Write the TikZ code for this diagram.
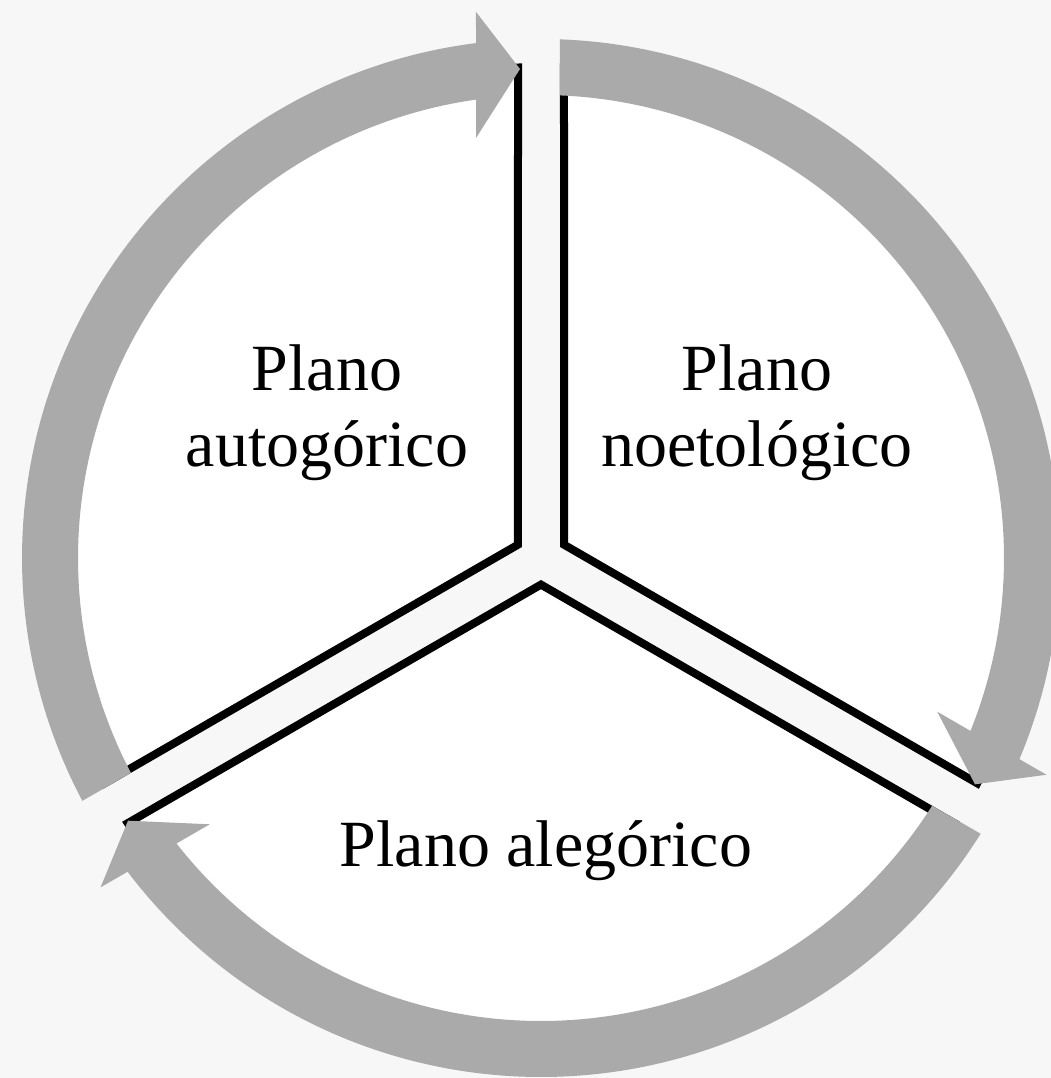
\documentclass[tikz,border=0pt]{standalone}
\usepackage{fontspec}
\setmainfont{Liberation Serif}
\usetikzlibrary{positioning}
\definecolor{ringgray}{HTML}{AAAAAA}
\definecolor{paper}{HTML}{F7F7F7}

\begin{document}
\begin{tikzpicture}[x=1pt,y=1pt]
            \fontsize{66}{76}\selectfont
            \fill[paper] (-541,-520) rectangle (510,558);
            \useasboundingbox (-541,-520) rectangle (510,558);
            \foreach \a [evaluate=\a as \e using \a-120] in {210,90,-30} {
                \filldraw[fill=white, line width=8pt] ({\a-60}:26.6) -- ({\a-2.685}:491)
                    arc[start angle=\a-2.685, end angle=\e+2.685, radius=491] -- cycle;
            }
            \foreach \a [evaluate=\a as \e using \a-120] in {210,90,-30} {
                \fill[ringgray] ({\a-2.098}:519) arc[start angle=\a-2.098, end angle=\e+7.195, radius=519]
                    -- ({\e+6.789}:550) -- ({\e+2.459}:489.5) -- ({\e+8.797}:425)
                    -- ({\e+8.071}:463) arc[start angle=\e+8.071, end angle=\a-2.352, radius=463] -- cycle;
            }
            \node[align=center] (autog) at (-214,145) {Plano\\autogórico};
            \node[align=center] (noetol) at (216,145) {Plano\\noetológico};
            \node (alegor) at (5,-293) {Plano alegórico};
        \end{tikzpicture}
\end{document}
